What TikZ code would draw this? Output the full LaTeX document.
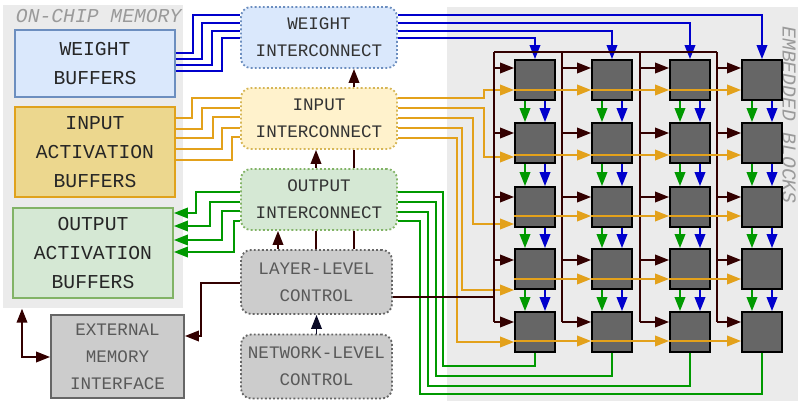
\documentclass[tikz,border=0pt]{standalone}
\usepackage{fontspec}
\setmonofont{Liberation Mono}
\usetikzlibrary{arrows.meta}

\definecolor{wireblue}{HTML}{0000CC}
\definecolor{wiregreen}{HTML}{009900}
\definecolor{wireorange}{HTML}{E3A11B}
\definecolor{ctrlbrown}{HTML}{330000}
\definecolor{navyblack}{HTML}{0A0A26}
\definecolor{bggray}{HTML}{EBEBEB}
\definecolor{labelgray}{HTML}{9A9A9A}
\definecolor{wfill}{HTML}{DAE8FC}
\definecolor{wdraw}{HTML}{6C8EBF}
\definecolor{ifill}{HTML}{ECD78E}
\definecolor{idraw}{HTML}{E0A21C}
\definecolor{icfill}{HTML}{FFF2CC}
\definecolor{icdraw}{HTML}{D6B656}
\definecolor{ofill}{HTML}{D5E8D4}
\definecolor{odraw}{HTML}{82B366}
\definecolor{cfill}{HTML}{CCCCCC}
\definecolor{cdraw}{HTML}{666666}
\definecolor{pefill}{HTML}{666666}

\newcommand\bigmono{\ttfamily\fontsize{14}{20.5}\selectfont}
\newcommand\smallmono{\ttfamily\fontsize{12.5}{19.2}\selectfont}

\begin{document}
\begin{tikzpicture}[
    x=0.025cm,
    y=-0.025cm,
    >={Triangle[length=10pt,width=7.5pt]},
    wire/.style={line width=1.4pt},
    wwire/.style={wire,draw=wireblue},
    iwire/.style={wire,draw=wireorange},
    owire/.style={wire,draw=wiregreen},
    ctrl/.style={wire,draw=ctrlbrown},
    buffer/.style={draw,line width=1.2pt,minimum width=4cm,minimum height=2.25cm,
      align=center,font=\bigmono,text=black!85},
    icbox/.style={draw,line width=1.3pt,dash pattern=on 1.3pt off 1.6pt,
      rounded corners=0.25cm,minimum width=3.9cm,minimum height=1.525cm,
      align=center,font=\smallmono,text=black!80},
    ctrlbox/.style={icbox,fill=cfill,draw=cdraw,minimum width=3.775cm,
      minimum height=1.6cm,text=black!65},
    pe/.style={draw=black,fill=pefill,line width=1.3pt,minimum size=1cm,inner sep=0pt},
    region/.style={fill=bggray,inner sep=0pt,anchor=north west},
    regionlabel/.style={font=\ttfamily\itshape\fontsize{14}{16}\selectfont,text=labelgray}
  ]
    \useasboundingbox (0,0) rectangle (798,401);

    % regions
    \node[region,minimum width=4.5cm,minimum height=7.575cm] (onchip) at (3,5) {};
    \node[region,minimum width=8.775cm,minimum height=9.85cm] (embedded) at (447,7) {};
    \node[regionlabel,anchor=west] (onchiplabel) at (11,16) {ON-CHIP MEMORY};
    \node[regionlabel,rotate=-90,inner sep=1pt] (embeddedlabel) at (789,115) {EMBEDDED BLOCKS};

    % memories
    \node[buffer,fill=wfill,draw=wdraw,minimum height=1.675cm] (wbuf) at (95,63.5)
      {WEIGHT\\BUFFERS};
    \node[buffer,fill=ifill,draw=idraw] (ibuf) at (95,152)
      {INPUT\\ACTIVATION\\BUFFERS};
    \node[buffer,fill=ofill,draw=odraw] (obuf) at (93,253)
      {OUTPUT\\ACTIVATION\\BUFFERS};
    \node[buffer,fill=cfill,draw=cdraw,minimum width=3.325cm,minimum height=2.075cm,
      font=\smallmono,text=black!65] (ext) at (117.5,356.5)
      {EXTERNAL\\MEMORY\\INTERFACE};

    % interconnects and control
    \node[icbox,fill=wfill,draw=wdraw] (wic) at (319,37.5) {WEIGHT\\INTERCONNECT};
    \node[icbox,fill=icfill,draw=icdraw] (iic) at (319,118.5) {INPUT\\INTERCONNECT};
    \node[icbox,fill=ofill,draw=odraw] (oic) at (319,199.5) {OUTPUT\\INTERCONNECT};
    \node[ctrlbox] (llc) at (316.5,282) {LAYER-LEVEL\\CONTROL};
    \node[ctrlbox] (nlc) at (316.5,366.5) {NETWORK-LEVEL\\CONTROL};

    % embedded blocks
    \foreach \c/\x in {1/535,2/612,3/690,4/762}
      \foreach \r/\y in {1/80,2/143,3/207,4/269,5/332}
        \node[pe] (pe-\r-\c) at (\x,\y) {};

    % weight wires
    \foreach \ya/\xb/\yb in {53/193/15,59/202/23,65/212/31,71/222/38}
      \draw[wwire] (wbuf.east |- 0,\ya) -| (\xb,\yb) -- (wic.west |- 0,\yb);
    \foreach \y/\c in {15/4,23/3,31/2,38/1}
      \draw[wwire,->] (wic.east |- 0,\y) -| (pe-1-\c.north);

    % input wires
    \foreach \ya/\xb/\yb in {118/192/98,129/202/108,138/213/117,149/222/128,160/232/137}
      \draw[iwire] (ibuf.east |- 0,\ya) -| (\xb,\yb) -- (iic.west |- 0,\yb);
    \foreach \r/\yo/\xb/\ye in {1/98/484/90,2/108/484/157,3/118/473/224,4/128/462/290,5/138/457/342}
      \draw[iwire,->] (iic.east |- 0,\yo) -| (\xb,\ye) -- (pe-\r-1.west |- 0,\ye);

    % output wires
    \foreach \ya/\xb/\yb in {192/196/213,202/210/226,211/222/240,221/234/252}
      \draw[owire,->] (oic.west |- 0,\ya) -| (\xb,\yb) -- (obuf.east |- 0,\yb);
    \foreach \c/\ya/\xv/\yb in {1/192/443/366,2/202/436/376,3/212/428/386,4/221/420/394}
      \draw[owire] (pe-5-\c.south) |- (\xv,\yb) |- (oic.east |- 0,\ya);

    % partial sums and weights passed down
    \foreach \c in {1,...,4}
      \foreach \r in {1,...,4} {
        \pgfmathtruncatemacro\s{\r+1}
        \draw[owire,->] ([xshift=-0.25cm]pe-\r-\c.south) -- ([xshift=-0.25cm]pe-\s-\c.north);
        \draw[wwire,->] ([xshift=0.25cm]pe-\r-\c.south) -- ([xshift=0.25cm]pe-\s-\c.north);
      }

    % control bus
    \foreach \c/\x in {1/494,2/562,3/640,4/717} {
      \coordinate (bus-\c) at (\x,52);
      \draw[ctrl] (bus-\c) -- (bus-\c |- 0,322);
      \foreach \r/\y in {1/68,2/133,3/197,4/260,5/322}
        \draw[ctrl,->] (bus-\c |- 0,\y) -- (pe-\r-\c.west |- 0,\y);
    }
    \draw[ctrl] (bus-1) -- (bus-4);
    \draw[ctrl] (llc.east |- 0,297) -- (bus-1 |- 0,297);

    \draw[ctrl,->] (llc.north -| 278,0) -- (oic.south -| 278,0);
    \draw[ctrl] (llc.north -| 316,0) -- (oic.south -| 316,0);
    \draw[ctrl,->] (oic.north -| 316,0) -- (iic.south -| 316,0);
    \draw[ctrl] (llc.north -| 354,0) -- (oic.south -| 354,0);
    \draw[ctrl] (oic.north -| 354,0) -- (iic.south -| 354,0);
    \draw[ctrl,->] (iic.north -| 354,0) -- (wic.south -| 354,0);
    \draw[ctrl,draw=navyblack,->] (nlc.north) -- (llc.south);
    \draw[ctrl,->] (llc.west |- 0,283) -| (201,336) -- (ext.east |- 0,336);
    \draw[ctrl,<->] (onchip.south -| 22,0) |- (ext.west |- 0,357);

    % activations passed across
    \foreach \r/\y in {1/90,2/155,3/216,4/279,5/341}
      \foreach \c in {1,2,3} {
        \pgfmathtruncatemacro\n{\c+1}
        \draw[iwire,->] (pe-\r-\c.west |- 0,\y) -- (pe-\r-\n.west |- 0,\y);
      }
  \end{tikzpicture}
\end{document}
